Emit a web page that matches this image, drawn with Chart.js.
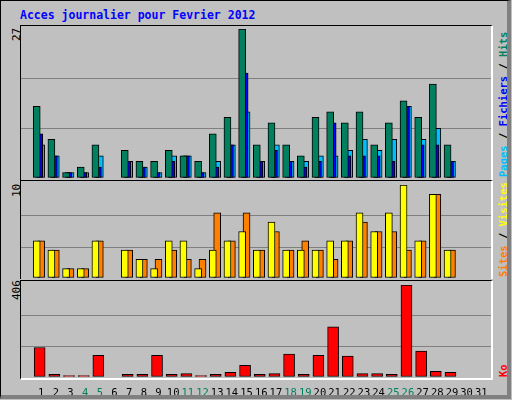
<!DOCTYPE html>
<html><head><meta charset="utf-8">
<script src="https://cdn.jsdelivr.net/npm/chart.js@4"></script>
<style>
body{margin:0;background:#c0c0c0}
#f{position:absolute;left:0;top:0;width:506px;height:394px;background:#c0c0c0;border:1px solid #000;border-right:4px solid #808080;border-bottom:4px solid #808080;overflow:hidden}
.t{position:absolute;font-family:"DejaVu Sans Mono",monospace;white-space:nowrap}
.p{position:absolute;left:19px;width:470px;border-top:1px solid #000;border-left:1px solid #000;border-right:2px solid #fff}
canvas{position:absolute}
.r{transform:rotate(-90deg);transform-origin:0 0}
</style></head><body>
<div id="f">
<div class="t" style="left:19px;top:7px;font-size:11.5px;font-weight:bold;color:#0000ff">Acces journalier pour Fevrier 2012</div>
<div class="p" style="top:24px;height:154px"></div>
<div class="p" style="top:179px;height:98px"></div>
<div class="p" style="top:279px;height:97px;border-bottom:2px solid #fff"></div>
<div class="t r" style="left:9px;top:40px;font-size:11px">27</div>
<div class="t r" style="left:9px;top:196px;font-size:11px">10</div>
<div class="t r" style="left:9px;top:299px;font-size:11px">406</div>
<div class="t r" style="left:496px;top:176px;font-size:10.5px;font-weight:bold"><span style="color:#00bfff">Pages</span> / <span style="color:#0000ff">Fichiers</span> / <span style="color:#00805f">Hits</span></div>
<div class="t r" style="left:496px;top:276px;font-size:10.5px;font-weight:bold"><span style="color:#ff8000">Sites</span> / <span style="color:#ffff00">Visites</span></div>
<div class="t r" style="left:496px;top:376px;font-size:10.5px;font-weight:bold;color:#ff0000">Ko</div>
<canvas id="c1" style="left:20px;top:28px;width:470px;height:149px" width="470" height="149"></canvas>
<canvas id="c2" style="left:20px;top:184px;width:470px;height:93px" width="470" height="93"></canvas>
<canvas id="c3" style="left:20px;top:284px;width:470px;height:114px" width="470" height="114"></canvas>
</div>
<script>
const days=[1,2,3,4,5,6,7,8,9,10,11,12,13,14,15,16,17,18,19,20,21,22,23,24,25,26,27,28,29,30,31];
const weekend=[4,5,11,12,18,19,25,26];
const hits=[13,7,1,2,6,0,5,3,3,5,4,3,8,11,27,6,10,6,4,11,12,10,12,6,10,14,11,17,6,0,0];
const files=[8,4,1,1,2,0,3,2,1,3,4,1,2,6,19,3,5,3,2,3,10,4,4,4,3,13,6,6,3,0,0];
const pages=[6,4,1,1,4,0,3,2,1,4,4,1,3,6,12,3,6,3,3,4,4,5,7,5,7,13,7,9,3,0,0];
const visits=[4,3,1,1,4,0,3,2,1,4,4,1,3,4,5,3,6,3,3,3,4,4,7,5,7,10,4,9,3,0,0];
const sites=[4,3,1,1,4,0,3,2,2,3,2,2,7,4,7,3,5,3,4,3,2,4,6,5,5,3,4,9,3,0,0];
const ko=[130,12,6,6,96,0,12,12,96,12,15,6,12,21,52,12,15,101,12,96,221,92,15,15,12,406,114,25,21,0,0];
const maxes=[27,10,406];

const pts=(arr,off)=>arr.map((v,i)=>({x:days[i]+off,y:v}));
function ds(arr,off,color,w){return {data:pts(arr,off),backgroundColor:color,borderColor:'#000',borderWidth:1,borderSkipped:false,barThickness:w,grouped:false};}
function mk(id,datasets,max,showX){
  const wk=c=>weekend.includes(c.tick.value)?'#00805f':'#000';
  const x={type:'linear',min:0.145,max:31.145,display:showX,grid:{display:false},border:{display:false},
           afterBuildTicks:s=>{s.ticks=days.map(v=>({value:v}))},
           ticks:{color:wk,font:{family:'DejaVu Sans Mono',size:10.5},padding:2,maxRotation:0,autoSkip:false,callback:v=>String(v)}};
  if(showX) x.afterFit=s=>{s.height=22};
  new Chart(document.getElementById(id),{type:'bar',data:{datasets},
    options:{responsive:false,animation:false,devicePixelRatio:1,
      plugins:{legend:{display:false},tooltip:{enabled:false}},
      layout:{padding:0},
      scales:{
        x:x,
        y:{min:0,max:max,display:true,border:{display:false},
           afterBuildTicks:s=>{s.ticks=[0,max/3,2*max/3,max].map(v=>({value:v}))},
           ticks:{display:false},
           grid:{drawTicks:false,lineWidth:1,color:c=>(c.tick&&c.tick.value>0&&c.tick.value<max)?'#808080':'rgba(0,0,0,0)'}}
      }}});
}
mk('c1',[ds(hits,-0.3,'#00805f',7),ds(files,-0.13,'#0000ff',7),ds(pages,0,'#00bfff',7)],maxes[0],false);
mk('c2',[ds(visits,-0.3,'#ffff00',7),ds(sites,0,'#ff8000',7)],maxes[1],false);
mk('c3',[ds(ko,-0.1,'#ff0000',11)],maxes[2],true);
</script>
</body></html>
